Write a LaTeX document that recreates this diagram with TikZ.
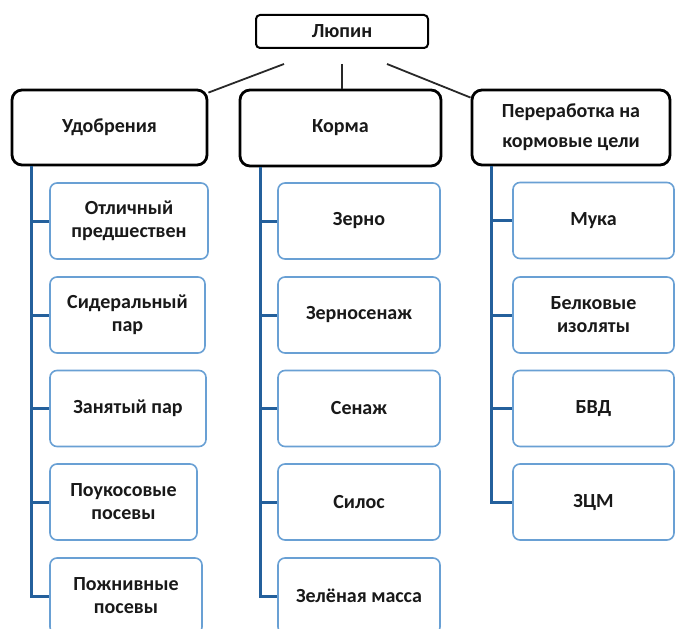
\documentclass[tikz,border=0pt]{standalone}
\usepackage{fontspec}
\setmainfont{Carlito}
\usepackage{tikz}
\definecolor{tx}{RGB}{25,25,25}
\definecolor{rand}{RGB}{105,160,212}
\definecolor{takblauw}{RGB}{36,96,156}
\definecolor{lijn}{RGB}{40,40,40}

\begin{document}
\begin{tikzpicture}[x=1pt,y=-1pt,
  every node/.style={font=\bfseries\fontsize{20}{23}\selectfont,text=tx,align=center},
  kop/.style={draw=black,line width=2.8pt,rounded corners=10pt,fill=white,inner sep=0pt},
  sub/.style={draw=rand,line width=1.6pt,rounded corners=7pt,fill=white,inner sep=0pt,minimum height=76pt},
  boom/.style={draw=takblauw,line width=3pt},
  verb/.style={draw=lijn,line width=1.8pt}]
  \useasboundingbox (0,0) rectangle (676,628);

  % top
  \node[kop,line width=2pt,rounded corners=4pt,minimum width=172pt,minimum height=33pt] (lupin) at (342,31.5) {Люпин};

  \node[kop,minimum width=195pt,minimum height=75pt] (udo) at (109.5,127.5) {Удобрения};
  \node[kop,minimum width=201pt,minimum height=76pt] (korma) at (340.5,128) {Корма};
  \node[kop,minimum width=198pt,minimum height=75pt,font=\bfseries\fontsize{20}{30}\selectfont] (pere) at (571,127.5) {Переработка на\\кормовые цели};

  \coordinate (lupL) at (284,64);
  \coordinate (lupM) at (342,64);
  \coordinate (lupR) at (387,64);
  \draw[verb] (lupL) -- ([yshift=-4pt]udo.north east);
  \draw[verb,line width=1.1pt] (lupM) -- (lupM |- korma.north);
  \draw[verb] (lupR) -- ([yshift=-9pt]pere.north west);

  % left
  \node[sub,minimum width=158pt] (u1) at (129,221) {Отличный\\предшествен};
  \node[sub,minimum width=155pt] (u2) at (127.5,315) {Сидеральный\\пар};
  \node[sub,minimum width=156pt] (u3) at (128,408.5) {Занятый пар};
  \node[sub,minimum width=147pt] (u4) at (123.5,502) {Поукосовые\\посевы};
  \node[sub,minimum width=152pt] (u5) at (126,596) {Пожнивные\\посевы};

  \coordinate (udoT) at ([xshift=21pt]udo.south west);
  \draw[boom] (udoT) |- (u5.west);
  \draw[boom] (udoT |- u1.west) -- (u1.west);
  \draw[boom] (udoT |- u2.west) -- (u2.west);
  \draw[boom] (udoT |- u3.west) -- (u3.west);
  \draw[boom] (udoT |- u4.west) -- (u4.west);

  % middle
  \node[sub,minimum width=162pt] (k1) at (359,221) {Зерно};
  \node[sub,minimum width=162pt] (k2) at (359,315) {Зерносенаж};
  \node[sub,minimum width=162pt] (k3) at (359,408.5) {Сенаж};
  \node[sub,minimum width=162pt] (k4) at (359,502) {Силос};
  \node[sub,minimum width=162pt] (k5) at (359,596) {Зелёная масса};

  \coordinate (kormaT) at ([xshift=22pt]korma.south west);
  \draw[boom] (kormaT) |- (k5.west);
  \draw[boom] (kormaT |- k1.west) -- (k1.west);
  \draw[boom] (kormaT |- k2.west) -- (k2.west);
  \draw[boom] (kormaT |- k3.west) -- (k3.west);
  \draw[boom] (kormaT |- k4.west) -- (k4.west);

  % right
  \node[sub,minimum width=161pt] (p1) at (593.5,220.5) {Мука};
  \node[sub,minimum width=161pt] (p2) at (593.5,315) {Белковые\\изоляты};
  \node[sub,minimum width=161pt] (p3) at (593.5,408.5) {БВД};
  \node[sub,minimum width=161pt] (p4) at (593.5,502) {ЗЦМ};

  \coordinate (pereT) at ([xshift=21pt]pere.south west);
  \draw[boom] (pereT) |- (p4.west);
  \draw[boom] (pereT |- p1.west) -- (p1.west);
  \draw[boom] (pereT |- p2.west) -- (p2.west);
  \draw[boom] (pereT |- p3.west) -- (p3.west);
\end{tikzpicture}
\end{document}
